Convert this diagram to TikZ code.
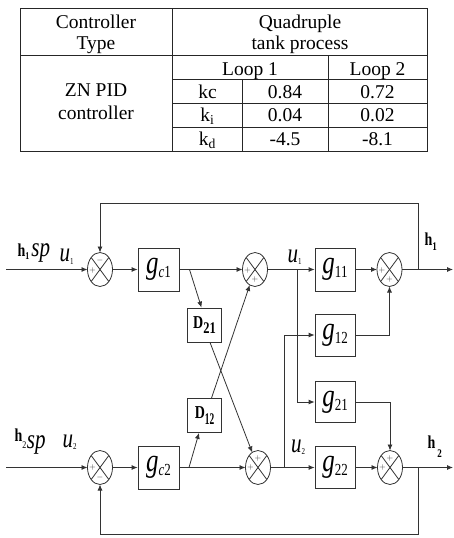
\documentclass[tikz,border=0pt]{standalone}
\usepackage{graphicx}
\usepackage{fontspec}
\setmainfont{Liberation Serif}
\usetikzlibrary{shapes.geometric,arrows.meta,calc}
\newcommand\vstretch[1]{\scalebox{1}[1.3]{#1}}
\newcommand\glabel[1]{\vstretch{\fontsize{25}{25}\selectfont\textit{g}\raisebox{-3pt}{\fontsize{13}{13}\selectfont #1}}}
\newcommand\dlabel[2]{\vstretch{\fontsize{14}{14}\selectfont\textbf{D}\raisebox{-4pt}{\scalebox{#2}[1]{\fontsize{12.5}{12.5}\selectfont\textbf{#1}}}}}
\newcommand\sumjunction[3]{%
  \node[sumnode] (#1) at (#2,#3) {};
  \draw[sumline] (#1) ellipse [x radius=12.5pt, y radius=17pt];
  \draw[sumline] ($(#1)+(-8.84,-12.02)$) -- ($(#1)+(8.84,12.02)$);
  \draw[sumline] ($(#1)+(8.84,-12.02)$) -- ($(#1)+(-8.84,12.02)$);
}
\begin{document}
\begin{tikzpicture}[x=1pt,y=-1pt,
  tline/.style={line width=0.8pt, draw=black!85},
  ttext/.style={font=\fontsize{19.5}{22}\selectfont, inner sep=0pt, anchor=base},
  wire/.style={line width=0.8pt, draw=black!80},
  arr/.style={wire, -{Latex[length=6pt,width=5pt]}},
  blockbox/.style={draw=black!80, line width=0.8pt, minimum width=41pt, minimum height=43pt, inner sep=0pt},
  sumnode/.style={shape=ellipse, minimum width=25pt, minimum height=34pt, inner sep=0pt, outer sep=0pt},
  sumline/.style={line width=0.8pt, draw=black!80},
  sgn/.style={font=\fontsize{8}{8}\selectfont, inner sep=0pt, text=black!80},
  lbl/.style={inner sep=0pt, anchor=base west}
]
\useasboundingbox (0,0) rectangle (454,538);
% ---------- table ----------
\draw[tline] (20,8.3) rectangle (427.3,151);
\draw[tline] (20,55) -- (427.3,55);
\draw[tline] (172.7,8.3) -- (172.7,151);
\draw[tline] (172.7,79.3) -- (427.3,79.3);
\draw[tline] (172.7,103.3) -- (427.3,103.3);
\draw[tline] (172.7,127.3) -- (427.3,127.3);
\draw[tline] (242.7,79.3) -- (242.7,151);
\draw[tline] (328.3,55) -- (328.3,151);
\node[ttext] (tc1) at (96,28) {Controller};
\node[ttext] (tc2) at (96,49) {Type};
\node[ttext] (tq1) at (300,28) {Quadruple};
\node[ttext] (tq2) at (300,49) {tank process};
\node[ttext] (tz1) at (96,96.5) {ZN PID};
\node[ttext] (tz2) at (96,119) {controller};
\node[ttext] (tl1) at (250,75) {Loop 1};
\node[ttext] (tl2) at (377.5,75) {Loop 2};
\node[ttext] (tkc) at (207.5,98) {kc};
\node[ttext] (tv11) at (285,98) {0.84};
\node[ttext] (tv12) at (377.5,98) {0.72};
\node[ttext] (tki) at (207.5,121.5) {k\textsubscript{i}};
\node[ttext] (tv21) at (285,121.5) {0.04};
\node[ttext] (tv22) at (377.5,121.5) {0.02};
\node[ttext] (tkd) at (207.5,145.5) {k\textsubscript{d}};
\node[ttext] (tv31) at (285,145.5) {-4.5};
\node[ttext] (tv32) at (377.5,145.5) {-8.1};
% ---------- block diagram ----------
\node[blockbox] (gc1) at (158.5,269.5) {\glabel{\textit{c}1}};
\node[blockbox] (gc2) at (158.5,467.5) {\glabel{\textit{c}2}};
\node[blockbox, minimum width=34pt, minimum height=34pt] (d21) at (204.5,325) {\dlabel{21}{1}};
\node[blockbox, minimum width=34pt, minimum height=34pt] (d12) at (204.5,415.5) {\dlabel{12}{0.75}};
\node[blockbox, minimum width=40pt] (g11) at (335,269.5) {\glabel{11}};
\node[blockbox, minimum width=40pt, minimum height=42pt] (g12) at (335,335) {\glabel{12}};
\node[blockbox, minimum width=40pt, minimum height=41pt] (g21) at (335,402) {\glabel{21}};
\node[blockbox, minimum width=40pt, minimum height=41.6pt] (g22) at (335,467.5) {\glabel{22}};
\sumjunction{s1}{100}{269.5}
\sumjunction{sa}{255}{269.5}
\sumjunction{s2}{389.5}{269.5}
\sumjunction{s3}{100}{467.5}
\sumjunction{sb}{258}{467.5}
\sumjunction{s4}{390}{467.5}
% signs
\node[sgn] (s1t) at ($(s1)+(0,-9)$) {$-$};
\node[sgn] (s1l) at ($(s1)+(-7.5,1)$) {$+$};
\node[sgn] (sal) at ($(sa)+(-7.5,1)$) {$+$};
\node[sgn] (sab) at ($(sa)+(0,9.5)$) {$+$};
\node[sgn] (s2l) at ($(s2)+(-7.5,1)$) {$+$};
\node[sgn] (s2b) at ($(s2)+(0,9.5)$) {$+$};
\node[sgn] (s3l) at ($(s3)+(-7.5,0)$) {$+$};
\node[sgn] (s3b) at ($(s3)+(0,9.5)$) {$-$};
\node[sgn] (sbt) at ($(sb)+(0,-9.5)$) {$+$};
\node[sgn] (sbl) at ($(sb)+(-7.5,0)$) {$+$};
\node[sgn] (s4t) at ($(s4)+(0,-9.5)$) {$+$};
\node[sgn] (s4l) at ($(s4)+(-7.5,0)$) {$+$};
% coordinates
\coordinate (in1) at (6,269.5);
\coordinate (in2) at (6,467.5);
\coordinate (out1) at (453,269.5);
\coordinate (out2) at (453,467.5);
\coordinate (b1) at (189.5,269.5);
\coordinate (b2) at (189,467.5);
\coordinate (j1) at (297.3,269.5);
\coordinate (j2) at (284.3,467.5);
\coordinate (f1) at (418,269.5);
\coordinate (f2) at (418,467.5);
\coordinate (t1) at (100,203);
\coordinate (t2) at (100,534);
% connectors
\draw[arr] (in1) -- (s1);
\draw[arr] (in2) -- (s3);
\draw[arr] (s1) -- (gc1);
\draw[arr] (s3) -- (gc2);
\draw[arr] (gc1) -- (sa);
\draw[arr] (gc2) -- (sb);
\draw[arr] (b1) -- ([xshift=-3pt]d21.north);
\draw[arr] (b2) -- ([xshift=-5.5pt]d12.south);
\draw[arr] ([xshift=5.5pt]d21.south) -- (sb);
\draw[arr] ([xshift=7pt]d12.north) -- (sa);
\draw[arr] (sa) -- (g11);
\draw[arr] (sb) -- (g22);
\draw[arr] (j1) |- (g21);
\draw[arr] (j2) |- (g12);
\draw[arr] (g11) -- (s2);
\draw[arr] (g22) -- (s4);
\draw[arr] (g12) -| (s2);
\draw[arr] (g21) -| (s4);
\draw[arr] (s2) -- (out1);
\draw[arr] (s4) -- (out2);
\draw[arr] (f1) |- (t1) -- (s1);
\draw[arr] (f2) |- (t2) -- (s3);
% labels
\node[lbl] (lh1sp) at (17.5,256.7) {\vstretch{\fontsize{14}{14}\selectfont\textbf{h}\raisebox{-2pt}{\fontsize{8}{8}\selectfont\textbf{1}}\kern2pt\fontsize{21}{21}\selectfont\textit{sp}}};
\node[lbl] (lh2sp) at (14.5,441.5) {\vstretch{\fontsize{14}{14}\selectfont\textbf{h}\raisebox{-5.5pt}{\fontsize{8}{8}\selectfont 2\kern0.5pt\fontsize{21}{21}\selectfont\textit{sp}}}};
\node[lbl] (lu1a) at (59.5,261.7) {\vstretch{\fontsize{21}{21}\selectfont\textit{u}\raisebox{-2pt}{\fontsize{7}{7}\selectfont 1}}};
\node[lbl] (lu2a) at (62.5,447) {\vstretch{\fontsize{21}{21}\selectfont\textit{u}\raisebox{-2pt}{\fontsize{7}{7}\selectfont 2}}};
\node[lbl] (lu1b) at (287.5,262) {\vstretch{\fontsize{21}{21}\selectfont\textit{u}\raisebox{-2pt}{\fontsize{7}{7}\selectfont 1}}};
\node[lbl] (lu2b) at (291,452) {\vstretch{\fontsize{21}{21}\selectfont\textit{u}\raisebox{-2pt}{\fontsize{7}{7}\selectfont 2}}};
\node[lbl] (lh1) at (424.5,245) {\vstretch{\fontsize{14}{14}\selectfont\textbf{h}\raisebox{-4.5pt}{\fontsize{9}{9}\selectfont\textbf{1}}}};
\node[lbl] (lh2) at (427.5,448) {\vstretch{\fontsize{14}{14}\selectfont\textbf{h}\kern2pt\raisebox{-7.5pt}{\fontsize{9}{9}\selectfont\textbf{2}}}};
\end{tikzpicture}
\end{document}
